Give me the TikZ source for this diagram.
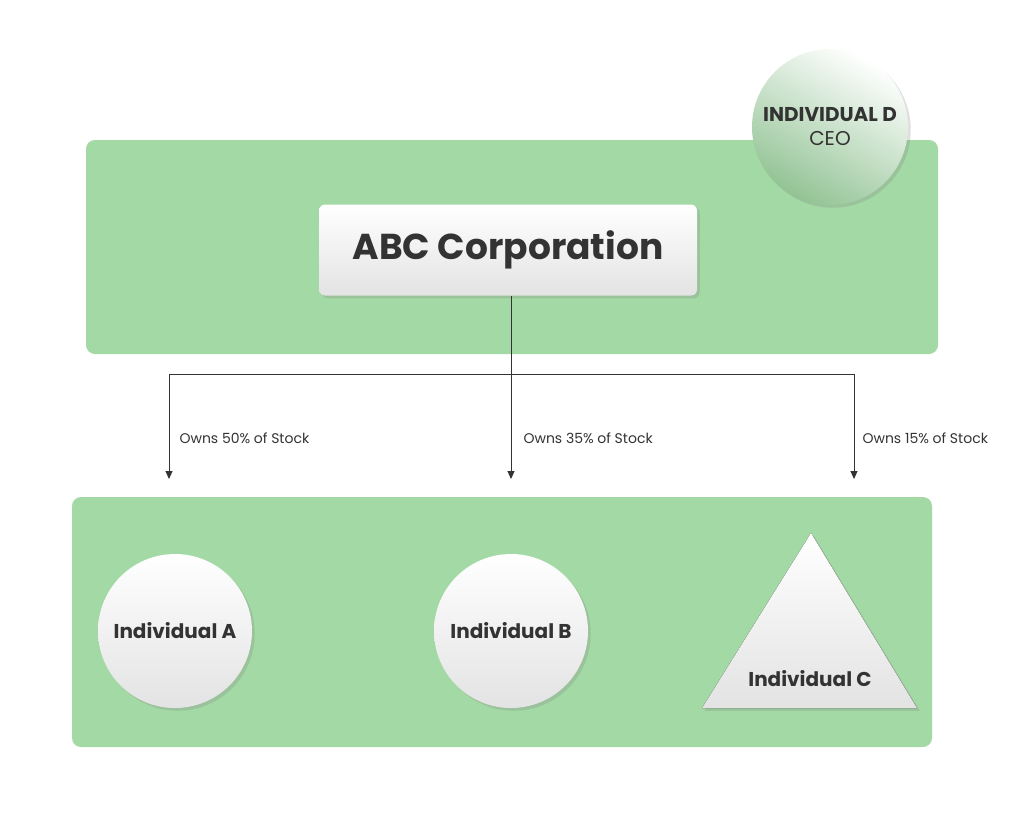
\documentclass[tikz,border=0pt]{standalone}
\usepackage{fontspec}
\setmainfont{Poppins}
\usetikzlibrary{positioning,arrows.meta,shadows}
\definecolor{panelgreen}{HTML}{A3D9A5}
\definecolor{inkgray}{HTML}{333333}
\tikzset{
x=1pt, y=-1pt,
panel/.style={fill=panelgreen, rounded corners=9pt, draw=none},
card/.style={draw=none, top color=white, bottom color=gray!22, drop shadow={opacity=0.25}},
person/.style={card, circle, minimum size=154pt, font=\bfseries\fontsize{20}{24}\selectfont, text=inkgray},
flow/.style={-{Triangle[length=8pt,width=7pt]}, line width=1pt, inkgray},
share/.style={font=\fontsize{14}{16}\selectfont, text=inkgray, anchor=west},
}
\begin{document}
\begin{tikzpicture}
\useasboundingbox[fill=white] (0,0) rectangle (1024,815);
% panels
\node[panel, minimum width=852pt, minimum height=214pt] (top) at (512,247) {};
\node[panel, minimum width=860pt, minimum height=250pt] (bottom) at (502,622) {};
% CEO and corporation
\node[circle, draw=none, minimum size=156pt, top color=white, bottom color=panelgreen!90!black, shading angle=-30, drop shadow={opacity=0.25}, align=center, text=inkgray, font=\fontsize{20}{24}\selectfont] (ceo) at (830,127) {\textbf{INDIVIDUAL D}\\CEO};
\node[card, rounded corners=6pt, minimum width=378pt, minimum height=91pt, font=\bfseries\fontsize{36}{40}\selectfont, text=inkgray] (abc) at (508,250) {ABC Corporation};
% owners
\node[person] (ia) at (175,631) {Individual A};
\node[person] (ib) at (511,631) {Individual B};
\coordinate (capex) at (811,533);
\coordinate (cleft) at (702,708);
\coordinate (cright) at (917,708);
\fill[top color=white, bottom color=gray!22, drop shadow={opacity=0.25}] (capex) -- (cright) -- (cleft) -- cycle;
\node[font=\bfseries\fontsize{20}{24}\selectfont, text=inkgray] (ic) at (810,679) {Individual C};
% ownership arrows
\coordinate (hub) at (511,374);
\coordinate (hl) at (169,374);
\coordinate (hr) at (854,374);
\coordinate (ta) at (169,479);
\coordinate (tb) at (511,479);
\coordinate (tc) at (854,479);
\draw[line width=1pt, inkgray] (abc.south -| hub) -- (hub);
\draw[flow] (hub) -- (tb);
\draw[flow] (hub) -- (hl) -- (ta);
\draw[flow] (hub) -- (hr) -- (tc);
\node[share] (sa) at (176,438) {Owns 50\% of Stock};
\node[share] (sb) at (520,438) {Owns 35\% of Stock};
\node[share] (sc) at (859,438) {Owns 15\% of Stock};
\end{tikzpicture}
\end{document}
